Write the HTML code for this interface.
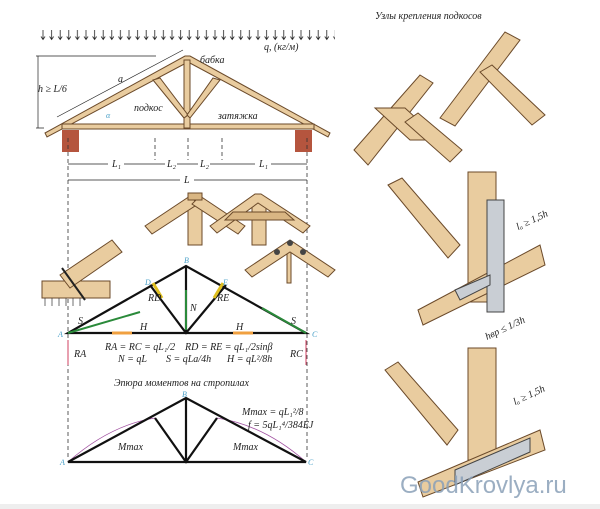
<!DOCTYPE html>
<html><head><meta charset="utf-8"><style>
body{margin:0;background:#fff}
svg{display:block;font-family:"Liberation Serif","Noto Serif CJK SC",serif}
.w{fill:#e9cc9f;stroke:#6b4a2a;stroke-width:1}
.wd{fill:#d9b683;stroke:#6b4a2a;stroke-width:1}
.m{fill:#c9ced4;stroke:#444;stroke-width:1}
.k{stroke:#111;stroke-width:2.2;fill:none}
.d{stroke:#333;stroke-width:.8;stroke-dasharray:4 3;fill:none}
.t{font-style:italic;font-size:10px;fill:#222}
.b{fill:#4aa0c8;font-size:8px;font-style:italic}
</style></head><body>
<svg width="600" height="509" viewBox="0 0 600 509">
<defs>
<pattern id="ar" x="39" y="30" width="8.6" height="12" patternUnits="userSpaceOnUse">
<path d="M4,0v9M2,6.5 4,9.5 6,6.5" stroke="#222" stroke-width=".8" fill="none"/>
</pattern>
</defs>
<rect x="39" y="30" width="296" height="11" fill="url(#ar)"/>
<text x="264" y="50" class="t">q, (кг/м)</text>
<!-- roof -->
<polygon class="w" points="45,133 185,56 190,56 330,133 328,137 188,62 47,137"/>
<rect class="w" x="62" y="124" width="252" height="5"/>
<rect class="w" x="184" y="60" width="6" height="68"/>
<polygon class="w" points="153,80 160,78 188,115 184,118"/>
<polygon class="w" points="213,78 220,80 190,118 187,115"/>
<rect x="62" y="130" width="17" height="22" fill="#b5553e"/><rect x="295" y="130" width="17" height="22" fill="#b5553e"/>
<path d="M38,56v72M36,56h120M36,128h8" stroke="#222" stroke-width=".7"/>
<text x="38" y="92" class="t">h ≥ L/6</text>
<path d="M57,117 L183,50" stroke="#222" stroke-width=".7"/>
<text x="118" y="82" class="t">a</text>
<text x="200" y="63" class="t">бабка</text><text x="134" y="111" class="t">подкос</text><text x="218" y="119" class="t">затяжка</text>
<text x="106" y="118" class="b">α</text>
<path d="M68,138v320M155,138v22M188,138v22M222,138v22M307,138v320" class="d"/>
<path d="M68,164H307M68,180H307" stroke="#222" stroke-width=".7"/>
<g fill="#fff"><rect x="108" y="158" width="16" height="10"/><rect x="165" y="158" width="12" height="10"/><rect x="198" y="158" width="12" height="10"/><rect x="255" y="158" width="16" height="10"/><rect x="180" y="174" width="14" height="10"/></g>
<text x="112" y="167" class="t">L₁</text><text x="167" y="167" class="t">L₂</text><text x="200" y="167" class="t">L₂</text><text x="259" y="167" class="t">L₁</text><text x="184" y="183" class="t">L</text>
<!-- joints -->
<g>
<rect class="w" x="188" y="200" width="14" height="45"/>
<polygon class="w" points="145,226 190,196 198,204 152,234"/><polygon class="w" points="245,226 200,196 192,204 238,234"/>
<rect class="wd" x="188" y="193" width="14" height="7"/>
<rect class="w" x="252" y="200" width="14" height="45"/>
<polygon class="w" points="210,226 255,194 261,194 310,226 303,233 258,203 217,233"/>
<polygon class="wd" points="233,212 285,212 294,220 225,220"/>
<rect class="w" x="287" y="248" width="4" height="35"/>
<polygon class="w" points="245,270 290,240 335,270 328,277 290,252 252,277"/>
<circle cx="277" cy="252" r="3" fill="#444"/><circle cx="303" cy="252" r="3" fill="#444"/><circle cx="290" cy="243" r="3" fill="#444"/>
<rect class="w" x="42" y="281" width="68" height="17"/>
<polygon class="w" points="60,275 112,240 122,252 70,288"/>
<path d="M62,268 L85,300" stroke="#222" stroke-width="2"/>
<path d="M45,298v8M52,298v8M59,298v8M66,298v8M73,298v8M80,298v8" stroke="#333" stroke-width=".7"/>
</g>
<!-- truss -->
<path class="k" d="M68,333H306L186,266Z M186,266V333 M150,285 186,333 226,285"/>
<path d="M68,333 L140,312" stroke="#2a8a3a" stroke-width="2"/><path d="M306,333 L262,308" stroke="#2a8a3a" stroke-width="2"/>
<path d="M186,290V330" stroke="#2a8a3a" stroke-width="2"/>
<path d="M153,283 L162,298M223,283 L214,298" stroke="#e0c020" stroke-width="3"/>
<path d="M132,333H112M233,333H253" stroke="#f0a040" stroke-width="3"/>
<path d="M68,340v25M306,340v25" stroke="#d04060" stroke-width="1"/>
<text x="184" y="263" class="b">B</text><text x="145" y="285" class="b">D</text><text x="223" y="285" class="b">E</text><text x="58" y="337" class="b">A</text><text x="312" y="337" class="b">C</text>
<text x="78" y="324" class="t">S</text><text x="291" y="324" class="t">S</text><text x="140" y="330" class="t">H</text><text x="236" y="330" class="t">H</text><text x="190" y="311" class="t">N</text>
<text x="148" y="301" class="t" font-size="8">RD</text><text x="217" y="301" class="t" font-size="8">RE</text>
<text x="74" y="357" class="t">RA</text><text x="290" y="357" class="t">RC</text>
<text x="105" y="350" class="t">RA = RC = qL₁/2</text><text x="185" y="350" class="t">RD = RE = qL₁/2sinβ</text>
<text x="118" y="362" class="t">N = qL</text><text x="166" y="362" class="t">S = qLa/4h</text><text x="227" y="362" class="t">H = qL²/8h</text>
<text x="114" y="386" class="t">Эпюра моментов на стропилах</text>
<!-- lower truss -->
<path d="M68,462 Q110,425 155,418 M306,462 Q264,425 217,418" stroke="#a050a0" stroke-width=".8" fill="none"/>
<path class="k" d="M68,462H306L186,398Z M186,398V462 M155,418 186,462 217,418"/>
<text x="182" y="397" class="b">B</text><text x="60" y="465" class="b">A</text><text x="308" y="465" class="b">C</text>
<text x="242" y="415" class="t">Mmax = qL₁²/8</text><text x="248" y="428" class="t">f = 5qL₁⁴/384EJ</text>
<text x="118" y="450" class="t" font-size="8">Mmax</text><text x="233" y="450" class="t" font-size="8">Mmax</text>
<!-- right side -->
<text x="375" y="19" class="t">Узлы крепления подкосов</text>
<polygon class="w" points="354,150 420,75 433,83 368,165"/>
<polygon class="w" points="375,108 405,108 440,140 410,140"/>
<polygon class="w" points="405,122 418,113 462,150 450,162"/>
<polygon class="w" points="440,118 505,32 520,40 455,126"/>
<polygon class="w" points="480,72 492,65 545,115 532,125"/>
<rect class="w" x="468" y="172" width="28" height="130"/>
<polygon class="w" points="388,185 402,178 460,245 448,258"/>
<polygon class="w" points="418,310 540,245 545,265 423,325"/>
<rect class="m" x="487" y="200" width="17" height="112"/>
<polygon class="m" points="455,290 490,275 490,285 460,300"/>
<rect class="w" x="468" y="348" width="28" height="112"/>
<polygon class="w" points="385,370 398,362 458,430 447,445"/>
<polygon class="w" points="418,482 540,430 545,450 423,497"/>
<polygon class="m" points="455,470 530,438 530,452 455,485"/>
<text x="518" y="230" class="t" transform="rotate(-25 518 230)">lₐ ≥ 1,5h</text>
<text x="515" y="405" class="t" transform="rotate(-25 515 405)">lₐ ≥ 1,5h</text>
<text x="487" y="340" class="t" transform="rotate(-25 487 340)">hвр ≤ 1/3h</text>
<text x="400" y="493" font-family="Liberation Sans,sans-serif" font-size="24" fill="#8aa0b8" opacity=".85">GoodKrovlya.ru</text>
<rect x="0" y="504" width="600" height="5" fill="#eee"/>
</svg>
</body></html>
